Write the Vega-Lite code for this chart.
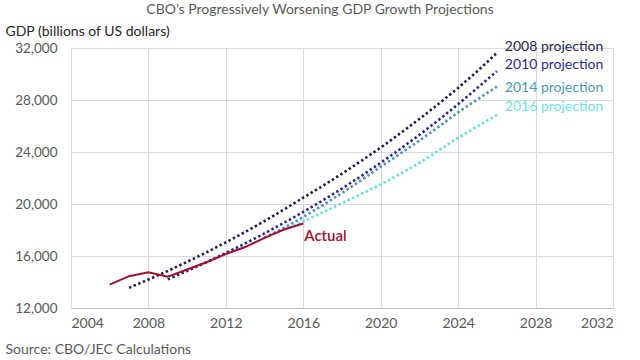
{
  "$schema": "https://vega.github.io/schema/vega-lite/v6.json",
  "width": 542,
  "height": 260,
  "autosize": {"type": "none"},
  "padding": {"left": 71, "top": 48, "right": 27, "bottom": 52},
  "background": "white",
  "config": {
    "font": "Lato",
    "view": {"stroke": null},
    "axis": {"labelFont": "Lato", "titleFont": "Lato"}
  },
  "title": {
    "text": "CBO’s Progressively Worsening GDP Growth Projections",
    "font": "Lato",
    "fontSize": 14,
    "fontWeight": "normal",
    "color": "#595959",
    "anchor": "middle",
    "frame": "group",
    "dx": -22,
    "baseline": "middle",
    "offset": 0,
    "dy": 0
  },
  "data": {
    "values": [
      {"series": "Actual", "year": 2006, "gdp": 13800},
      {"series": "Actual", "year": 2007, "gdp": 14450},
      {"series": "Actual", "year": 2008, "gdp": 14750},
      {"series": "Actual", "year": 2009, "gdp": 14400},
      {"series": "Actual", "year": 2010, "gdp": 14960},
      {"series": "Actual", "year": 2011, "gdp": 15520},
      {"series": "Actual", "year": 2012, "gdp": 16150},
      {"series": "Actual", "year": 2013, "gdp": 16690},
      {"series": "Actual", "year": 2014, "gdp": 17390},
      {"series": "Actual", "year": 2015, "gdp": 18040},
      {"series": "Actual", "year": 2016, "gdp": 18500},

      {"series": "2008 projection", "year": 2007, "gdp": 13550},
      {"series": "2008 projection", "year": 2008, "gdp": 14190},
      {"series": "2008 projection", "year": 2009, "gdp": 14850},
      {"series": "2008 projection", "year": 2010, "gdp": 15550},
      {"series": "2008 projection", "year": 2011, "gdp": 16280},
      {"series": "2008 projection", "year": 2012, "gdp": 17050},
      {"series": "2008 projection", "year": 2013, "gdp": 17850},
      {"series": "2008 projection", "year": 2014, "gdp": 18690},
      {"series": "2008 projection", "year": 2015, "gdp": 19570},
      {"series": "2008 projection", "year": 2016, "gdp": 20490},
      {"series": "2008 projection", "year": 2017, "gdp": 21390},
      {"series": "2008 projection", "year": 2018, "gdp": 22330},
      {"series": "2008 projection", "year": 2019, "gdp": 23320},
      {"series": "2008 projection", "year": 2020, "gdp": 24340},
      {"series": "2008 projection", "year": 2021, "gdp": 25420},
      {"series": "2008 projection", "year": 2022, "gdp": 26540},
      {"series": "2008 projection", "year": 2023, "gdp": 27710},
      {"series": "2008 projection", "year": 2024, "gdp": 28930},
      {"series": "2008 projection", "year": 2025, "gdp": 30230},
      {"series": "2008 projection", "year": 2026, "gdp": 31620},

      {"series": "2010 projection", "year": 2009, "gdp": 14200},
      {"series": "2010 projection", "year": 2010, "gdp": 14850},
      {"series": "2010 projection", "year": 2011, "gdp": 15520},
      {"series": "2010 projection", "year": 2012, "gdp": 16230},
      {"series": "2010 projection", "year": 2013, "gdp": 16970},
      {"series": "2010 projection", "year": 2014, "gdp": 17740},
      {"series": "2010 projection", "year": 2015, "gdp": 18550},
      {"series": "2010 projection", "year": 2016, "gdp": 19390},
      {"series": "2010 projection", "year": 2017, "gdp": 20270},
      {"series": "2010 projection", "year": 2018, "gdp": 21190},
      {"series": "2010 projection", "year": 2019, "gdp": 22160},
      {"series": "2010 projection", "year": 2020, "gdp": 23170},
      {"series": "2010 projection", "year": 2021, "gdp": 24220},
      {"series": "2010 projection", "year": 2022, "gdp": 25320},
      {"series": "2010 projection", "year": 2023, "gdp": 26470},
      {"series": "2010 projection", "year": 2024, "gdp": 27680},
      {"series": "2010 projection", "year": 2025, "gdp": 28940},
      {"series": "2010 projection", "year": 2026, "gdp": 30220},

      {"series": "2014 projection", "year": 2014, "gdp": 17420},
      {"series": "2014 projection", "year": 2015, "gdp": 18170},
      {"series": "2014 projection", "year": 2016, "gdp": 19000},
      {"series": "2014 projection", "year": 2017, "gdp": 19900},
      {"series": "2014 projection", "year": 2018, "gdp": 20850},
      {"series": "2014 projection", "year": 2019, "gdp": 21840},
      {"series": "2014 projection", "year": 2020, "gdp": 22870},
      {"series": "2014 projection", "year": 2021, "gdp": 23860},
      {"series": "2014 projection", "year": 2022, "gdp": 24880},
      {"series": "2014 projection", "year": 2023, "gdp": 25950},
      {"series": "2014 projection", "year": 2024, "gdp": 27060},
      {"series": "2014 projection", "year": 2025, "gdp": 28050},
      {"series": "2014 projection", "year": 2026, "gdp": 29030},

      {"series": "2016 projection", "year": 2015, "gdp": 18040},
      {"series": "2016 projection", "year": 2016, "gdp": 18650},
      {"series": "2016 projection", "year": 2017, "gdp": 19350},
      {"series": "2016 projection", "year": 2018, "gdp": 20060},
      {"series": "2016 projection", "year": 2019, "gdp": 20770},
      {"series": "2016 projection", "year": 2020, "gdp": 21500},
      {"series": "2016 projection", "year": 2021, "gdp": 22310},
      {"series": "2016 projection", "year": 2022, "gdp": 23160},
      {"series": "2016 projection", "year": 2023, "gdp": 24120},
      {"series": "2016 projection", "year": 2024, "gdp": 25100},
      {"series": "2016 projection", "year": 2025, "gdp": 25980},
      {"series": "2016 projection", "year": 2026, "gdp": 26850}
    ]
  },
  "encoding": {
    "x": {
      "field": "year",
      "type": "quantitative",
      "scale": {"domain": [2004, 2032], "nice": false, "zero": false},
      "axis": {
        "values": [2004, 2008, 2012, 2016, 2020, 2024, 2028, 2032],
        "format": "d",
        "title": "Source: CBO/JEC Calculations",
        "titleFontSize": 14,
        "titleFontWeight": "normal",
        "titleColor": "#595959",
        "titleAnchor": "start",
        "titleAlign": "left",
        "titleX": -66,
        "titleY": 41,
        "titleBaseline": "middle",
        "labelFontSize": 14,
        "labelColor": "#595959",
        "labelPadding": 8,
        "ticks": false,
        "grid": true,
        "gridColor": "#d9d9d9",
        "domainColor": "#bfbfbf"
      }
    },
    "y": {
      "field": "gdp",
      "type": "quantitative",
      "scale": {"domain": [12000, 32000], "nice": false, "zero": false},
      "axis": {
        "values": [12000, 16000, 20000, 24000, 28000, 32000],
        "format": ",d",
        "title": "GDP (billions of US dollars)",
        "titleAngle": 0,
        "titleAlign": "left",
        "titleAnchor": "start",
        "titleX": -66,
        "titleY": -17,
        "titleBaseline": "middle",
        "titleFontSize": 14,
        "titleFontWeight": "normal",
        "titleColor": "#262626",
        "labelFontSize": 13.5,
        "labelColor": "#595959",
        "labelPadding": 14,
        "ticks": false,
        "grid": true,
        "gridColor": "#d9d9d9",
        "domain": true,
        "domainColor": "#d9d9d9"
      }
    }
  },
  "layer": [
    {
      "transform": [{"filter": "datum.series !== 'Actual'"}],
      "mark": {"type": "line", "strokeWidth": 2.6, "strokeDash": [2.4, 2.6], "strokeCap": "butt"},
      "encoding": {
        "detail": {"field": "series"},
        "color": {
          "field": "series",
          "type": "nominal",
          "scale": {
            "domain": ["2008 projection", "2010 projection", "2014 projection", "2016 projection"],
            "range": ["#1a1a52", "#24249a", "#4a8fb8", "#62dde6"]
          },
          "legend": null
        }
      }
    },
    {
      "transform": [{"filter": "datum.series === 'Actual'"}],
      "mark": {"type": "line", "strokeWidth": 2, "color": "#a0102a"},
      "encoding": {}
    },
    {
      "transform": [{"filter": "datum.series === 'Actual' && datum.year === 2016"}],
      "mark": {"type": "text", "align": "left", "baseline": "middle", "dx": 1, "dy": 12, "fontSize": 15, "fontWeight": 600, "color": "#a0102a", "font": "Lato"},
      "encoding": {"text": {"value": "Actual"}}
    },
    {
      "transform": [{"filter": "datum.series === '2008 projection' && datum.year === 2026"}],
      "mark": {"type": "text", "align": "left", "baseline": "middle", "dx": 8, "dy": -6, "fontSize": 14, "color": "#262650", "font": "Lato"},
      "encoding": {"text": {"field": "series"}}
    },
    {
      "transform": [{"filter": "datum.series === '2010 projection' && datum.year === 2026"}],
      "mark": {"type": "text", "align": "left", "baseline": "middle", "dx": 8, "dy": -6, "fontSize": 14, "color": "#2a2a8c", "font": "Lato"},
      "encoding": {"text": {"field": "series"}}
    },
    {
      "transform": [{"filter": "datum.series === '2014 projection' && datum.year === 2026"}],
      "mark": {"type": "text", "align": "left", "baseline": "middle", "dx": 8, "dy": 1, "fontSize": 14, "color": "#4a98b4", "font": "Lato"},
      "encoding": {"text": {"field": "series"}}
    },
    {
      "transform": [{"filter": "datum.series === '2016 projection' && datum.year === 2026"}],
      "mark": {"type": "text", "align": "left", "baseline": "middle", "dx": 8, "dy": -8, "fontSize": 14, "color": "#72dfe2", "font": "Lato"},
      "encoding": {"text": {"field": "series"}}
    }
  ]
}
